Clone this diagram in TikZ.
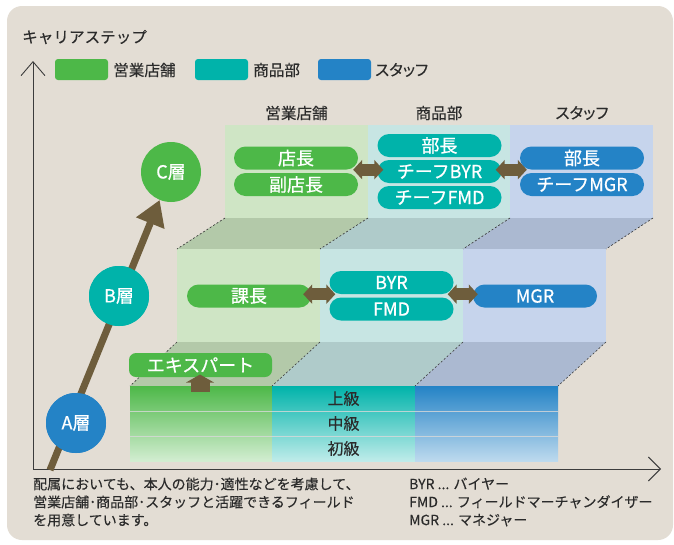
\documentclass[tikz,border=0pt]{standalone}
\usepackage{fontspec}
\setmainfont{Noto Sans CJK JP}[FakeBold=0.25]
\newfontfamily\jpp[RawFeature=+palt,FakeBold=0.25]{Noto Sans CJK JP}
\newfontfamily\jpm[FakeBold=0.6]{Noto Sans CJK JP}
\usetikzlibrary{arrows.meta}
\definecolor{bgc}{HTML}{E3DDD4}
\definecolor{cg}{HTML}{4DB848}
\definecolor{ct}{HTML}{00B3AA}
\definecolor{cb}{HTML}{2483C6}
\definecolor{lg}{HTML}{CFE5C5}
\definecolor{lt}{HTML}{C7E5E3}
\definecolor{lb}{HTML}{C6D4EC}
\definecolor{fgc}{HTML}{B3C9A9}
\definecolor{ftc}{HTML}{AFCBCA}
\definecolor{fbc}{HTML}{ABB9D1}
\definecolor{brn}{HTML}{6E5D3C}
\definecolor{txt}{HTML}{2B2B2B}
\definecolor{axc}{HTML}{3C3C3C}
\tikzset{
  pill/.style={rounded corners=11.5pt, minimum width=124pt, minimum height=23pt, inner sep=0pt,
    text=white, font=\jpm\fontsize{18}{18}\selectfont},
  lvl/.style={circle, minimum size=60pt, inner sep=0pt, text=white, font=\jpm\fontsize{18}{18}\selectfont},
  legbox/.style={rounded corners=3pt, minimum width=53pt, minimum height=21pt, inner sep=0pt},
  lbl/.style={text=txt, inner sep=0pt, font=\fontsize{15.6}{15.6}\selectfont},
  dbl/.style={brn, line width=12pt, {Triangle[width=19pt,length=9pt]}-{Triangle[width=19pt,length=9pt]}},
  edge/.style={black!80, line width=0.6pt, dash pattern=on 2pt off 2pt},
  axisline/.style={axc, line width=0.9pt},
  barsep/.style={white!85!black, line width=1pt, draw opacity=0.8},
  grade/.style={text=txt, inner sep=0pt, font=\fontsize{16}{16}\selectfont},
  note/.style={anchor=west, align=left, text=txt, inner sep=0pt, font=\fontsize{14}{18}\selectfont}
}
\begin{document}
\begin{tikzpicture}[x=1pt,y=-1pt]
\useasboundingbox (0,0) rectangle (674,544);
\fill[white] (0,0) rectangle (674,544);
\fill[bgc, rounded corners=15pt] (7,6) rectangle (673,540);

% title and legend
\node[lbl, anchor=west] (title) at (22,37) {キャリアステップ};
\node[legbox, fill=cg] (leg1) at (81.5,69.5) {};
\node[lbl, anchor=west] (legt1) at (113,70) {営業店舗};
\node[legbox, fill=ct] (leg2) at (221.5,69.5) {};
\node[lbl, anchor=west] (legt2) at (253,70) {商品部};
\node[legbox, fill=cb] (leg3) at (344.5,69.5) {};
\node[lbl, anchor=west, font=\jpp\fontsize{15.6}{15.6}\selectfont] (legt3) at (375,70) {スタッフ};

% column headers
\node[lbl] (h1) at (296.5,113) {営業店舗};
\node[lbl] (h2) at (439,113) {商品部};
\node[lbl, font=\jpp\fontsize{15.6}{15.6}\selectfont] (h3) at (582,113) {スタッフ};

% top panels
\fill[lg] (225,125) rectangle (368,218);
\fill[lt] (368,125) rectangle (510,218);
\fill[lb] (510,125) rectangle (653,218);
\fill[fgc] (225,218) -- (368,218) -- (320,249) -- (177,249) -- cycle;
\fill[ftc] (368,218) -- (510,218) -- (463,249) -- (320,249) -- cycle;
\fill[fbc] (510,218) -- (653,218) -- (606,249) -- (463,249) -- cycle;
% middle panels
\fill[lg] (177,249) rectangle (320,342);
\fill[lt] (320,249) rectangle (463,342);
\fill[lb] (463,249) rectangle (606,342);
\fill[fgc] (177,342) -- (320,342) -- (272,386) -- (130,386) -- cycle;
\fill[ftc] (320,342) -- (463,342) -- (415,386) -- (272,386) -- cycle;
\fill[fbc] (463,342) -- (606,342) -- (558,386) -- (415,386) -- cycle;
% bottom bars
\shade[top color=cg, bottom color=cg!25!white] (130,386) rectangle (272,461);
\shade[top color=ct, bottom color=ct!25!white] (272,386) rectangle (415,461);
\shade[top color=cb, bottom color=cb!30!white] (415,386) rectangle (558,461);
\draw[barsep] (130,411) -- (558,411);
\draw[barsep] (130,436) -- (558,436);
\node[grade] (jo) at (343.5,398.5) {上級};
\node[grade] (chu) at (343.5,423.5) {中級};
\node[grade] (sho) at (343.5,448.5) {初級};

% dashed slanted edges
\foreach \a/\b in {225/177,368/320,510/463,653/606}
  \draw[edge] (\a,218) -- (\b,249);
\foreach \a/\b in {177/130,320/272,463/415,606/558}
  \draw[edge] (\a,342) -- (\b,386);

% axes
\coordinate (org) at (33,469);
\coordinate (ytip) at (33,61);
\coordinate (xtip) at (661,469);
\draw[axisline, -{Straight Barb[length=14pt,width=24pt]}] (org) -- (ytip);
\draw[axisline, -{Straight Barb[length=12pt,width=24pt]}] (org) -- (xtip);

% level circles and arrow
\coordinate (astart) at (50,470);
\node[lvl, fill=cb] (A) at (76,423) {A層};
\node[lvl, fill=ct] (B) at (119,296) {B層};
\node[lvl, fill=cg] (C) at (171,172) {C層};
\draw[brn, line width=7pt, -{Triangle[width=29pt,length=25pt]}] (astart) -- (C);
\node[lvl, fill=cb] at (A) {A層};
\node[lvl, fill=ct] at (B) {B層};

% top pills
\node[pill, fill=cg] (tencho) at (296,158) {店長};
\node[pill, fill=cg] (fuku) at (296,184.5) {副店長};
\node[pill, fill=ct] (bucho1) at (439.5,145.5) {部長};
\node[pill, fill=ct] (cbyr) at (439.5,171.5) {チーフBYR};
\node[pill, fill=ct] (cfmd) at (439.5,197.5) {チーフFMD};
\node[pill, fill=cb] (bucho2) at (582,158) {部長};
\node[pill, fill=cb] (cmgr) at (582,184.5) {チーフMGR};
\draw[dbl] ([xshift=-5pt]tencho.south east) -- ([xshift=6pt]cbyr.west |- tencho.south east);
\draw[dbl] ([xshift=-6pt]cbyr.east |- bucho2.south west) -- ([xshift=7pt]bucho2.south west);

% middle pills
\node[pill, fill=cg] (kacho) at (249,296) {課長};
\node[pill, fill=ct] (byr) at (391.5,282.5) {BYR};
\node[pill, fill=ct] (fmd) at (391.5,309) {FMD};
\node[pill, fill=cb] (mgr) at (535,296) {MGR};
\draw[dbl] ([xshift=-8pt]kacho.east |- byr.south) -- ([xshift=6pt]byr.south west);
\draw[dbl] ([xshift=-6pt]byr.south east) -- ([xshift=5pt]mgr.west |- byr.south);

% expert
\node[pill, fill=cg, rounded corners=7pt, minimum width=143pt, minimum height=24pt] (expert) at (200.5,365) {エキスパート};
\fill[brn] (191,381) rectangle (210,392);
\fill[brn] (186,382.5) -- (214,382.5) -- (200,374.5) -- cycle;

% bottom texts
\node[note] (notetext) at (33,502)
  {配属においても、本人の能力･適性などを考慮して、\\営業店舗･商品部･スタッフと活躍できるフィールド\\を用意しています。};
\node[note] (abbr) at (409,502)
  {BYR ... バイヤー\\FMD ... フィールドマーチャンダイザー\\MGR ... マネジャー};
\end{tikzpicture}
\end{document}
